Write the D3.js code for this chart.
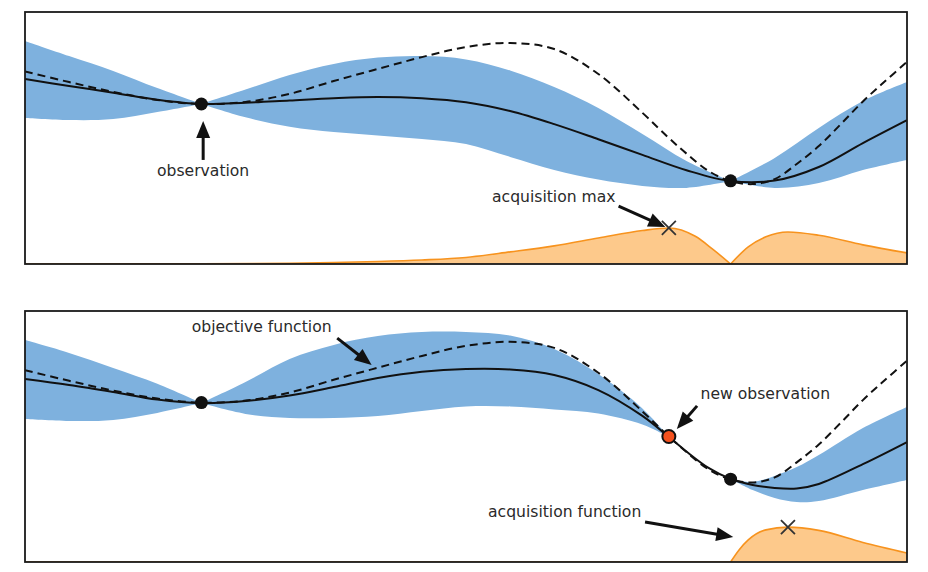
<!DOCTYPE html>
<html><head><meta charset="utf-8">
<script src="https://cdn.jsdelivr.net/npm/d3@7"></script>
<style>body{margin:0;background:#fff} svg{display:block} text{font-family:"DejaVu Sans",sans-serif}</style>
</head><body><svg id="c" width="928" height="572"></svg>
<script>
// ---------- data (x in [0,10], y in arbitrary units [0,10]) ----------
const objectiveX = [0,0.5,1,1.5,2,2.5,3,3.5,4,4.5,5,5.5,6,6.5,7,7.3,7.5,7.75,8,8.25,8.5,8.75,9,9.25,9.5,9.75,10];
const objectiveY = [7.64,7.22,6.83,6.51,6.35,6.43,6.75,7.26,7.74,8.21,8.61,8.77,8.53,7.54,6.00,5.00,4.38,3.69,3.29,3.17,3.37,3.97,4.68,5.55,6.45,7.25,8.02];

const gridTop  = [0,0.5,1,1.5,2,2.5,3,3.5,4,4.5,5,5.5,6,6.5,7,7.5,8,8.5,9,9.5,10];
const meanTop  = [7.34,7.06,6.80,6.52,6.35,6.40,6.49,6.58,6.63,6.58,6.42,6.07,5.55,4.95,4.33,3.72,3.29,3.31,3.85,4.80,5.71];
const upperTop = [8.85,8.25,7.66,6.98,6.35,6.92,7.50,7.94,8.19,8.25,8.12,7.68,7.02,6.19,5.16,4.09,3.29,4.21,5.40,6.47,7.22];
const lowerTop = [5.79,5.71,5.75,6.03,6.35,5.82,5.45,5.24,5.10,4.96,4.76,4.25,3.73,3.35,3.10,3.02,3.29,3.02,3.21,3.73,4.13];

const gridBot  = [0,0.5,1,1.5,2,2.5,3,3.5,4,4.5,5,5.5,6,6.5,7,7.3,7.5,7.75,8,8.25,8.5,8.75,9,9.5,10];
const meanBot  = [7.29,7.05,6.77,6.47,6.33,6.41,6.63,6.97,7.33,7.58,7.69,7.67,7.45,6.85,5.82,4.98,4.40,3.75,3.31,3.07,2.95,2.93,3.11,3.90,4.78];
const upperBot = [8.84,8.33,7.73,7.10,6.33,7.17,8.09,8.65,9.00,9.16,9.16,9.02,8.49,7.49,6.12,4.98,4.40,3.75,3.31,3.19,3.43,3.78,4.26,5.34,6.18];
const lowerBot = [5.70,5.62,5.66,5.94,6.33,5.90,5.74,5.74,5.82,6.02,6.20,6.20,6.08,5.92,5.48,4.98,4.40,3.75,3.31,2.87,2.55,2.39,2.43,2.87,3.27];

const acqTopX = [0,1,2,3,3.5,4,4.5,5,5.5,6,6.5,7,7.3,7.6,7.8,8,8.2,8.4,8.65,9,9.5,10];
const acqTopY = [0,0.005,0.01,0.03,0.06,0.1,0.16,0.26,0.48,0.72,1.03,1.33,1.43,1.10,0.58,0,0.68,1.08,1.27,1.14,0.76,0.44];
const acqBotX = [0,7.3,8,8.1,8.2,8.4,8.65,9,9.5,10];
const acqBotY = [0,0,0,0.5,0.88,1.28,1.39,1.26,0.78,0.36];

const obsX = [2, 8];
const obsY = [6.35, 3.30];
const newObsX = 7.3, newObsY = 5.0;

// annotations: text position (start/middle), arrow tail -> tip, all in data units
const annTop = [
  {text:"observation", tx:2.02, ty:3.49, anchor:"middle", ax1:2.02, ay1:4.13, ax2:2.02, ay2:5.67},
  {text:"acquisition max", tx:5.295, ty:2.48, anchor:"start", ax1:6.73, ay1:2.30, ax2:7.26, ay2:1.47}
];
const annBot = [
  {text:"objective function", tx:1.89, ty:9.18, anchor:"start", ax1:3.54, ay1:8.92, ax2:3.93, ay2:7.85},
  {text:"new observation", tx:7.66, ty:6.49, anchor:"start", ax1:7.62, ay1:6.22, ax2:7.39, ay2:5.30},
  {text:"acquisition function", tx:5.25, ty:1.79, anchor:"start", ax1:7.03, ay1:1.59, ax2:8.03, ay2:1.00}
];

// ---------- drawing ----------
const svg = d3.select("#c");
const x = d3.scaleLinear().domain([0,10]).range([25,907]);
const BLUE = "#7eb1de", ORANGE_FILL = "#fdc98b", ORANGE_LINE = "#f7931e";
const CURVE = d3.curveCatmullRom.alpha(0.5);

const panels = [
  {id:"top", y:d3.scaleLinear().domain([0,10]).range([264,12]),
   grid:gridTop, mean:meanTop, upper:upperTop, lower:lowerTop, bandBreaks:[2,8],
   acqX:acqTopX, acqY:acqTopY, acqBreaks:[8], newObs:false, ann:annTop},
  {id:"bot", y:d3.scaleLinear().domain([0,10]).range([562,311]),
   grid:gridBot, mean:meanBot, upper:upperBot, lower:lowerBot, bandBreaks:[2,7.3,8],
   acqX:acqBotX, acqY:acqBotY, acqBreaks:[8], newObs:true, ann:annBot}
];

function segments(pts, breaks){
  const edges = [0, ...breaks, 10];
  const out = [];
  for (let i=0;i<edges.length-1;i++){
    const a=edges[i], b=edges[i+1];
    out.push(pts.filter(p=>p.x>=a-1e-9 && p.x<=b+1e-9));
  }
  return out;
}

function arrow(g, x1,y1,x2,y2){
  const dx=x2-x1, dy=y2-y1, L=Math.hypot(dx,dy), ux=dx/L, uy=dy/L;
  const hl=17, hw=7;
  const bx=x2-ux*hl, by=y2-uy*hl;
  g.append("line").attr("x1",x1).attr("y1",y1).attr("x2",bx+ux*2).attr("y2",by+uy*2)
    .attr("stroke","#111").attr("stroke-width",3);
  g.append("path").attr("d",`M${x2},${y2}L${bx-uy*hw},${by+ux*hw}L${bx+uy*hw},${by-ux*hw}Z`)
    .attr("fill","#111");
}

panels.forEach(P=>{
  const y=P.y;
  const g = svg.append("g");
  const [y0,y1]=y.range();
  g.append("clipPath").attr("id","clip-"+P.id).append("rect")
    .attr("x",x(0)).attr("y",y1).attr("width",x(10)-x(0)).attr("height",y0-y1);
  const pg = g.append("g").attr("clip-path",`url(#clip-${P.id})`);

  // confidence band
  const band = P.grid.map((gx,i)=>({x:gx, lo:P.lower[i], hi:P.upper[i]}));
  const bandArea = d3.area().x(d=>x(d.x)).y0(d=>y(d.lo)).y1(d=>y(d.hi)).curve(CURVE);
  segments(band, P.bandBreaks).forEach(s=>{
    pg.append("path").attr("d",bandArea(s)).attr("fill",BLUE);
  });

  // acquisition
  const acq = P.acqX.map((ax,i)=>({x:ax, v:P.acqY[i]}));
  const acqArea = d3.area().x(d=>x(d.x)).y0(y(0)).y1(d=>y(d.v)).curve(d3.curveMonotoneX);
  const acqLine = d3.line().x(d=>x(d.x)).y(d=>y(d.v)).curve(d3.curveMonotoneX);
  segments(acq, P.acqBreaks).forEach(s=>{
    pg.append("path").attr("d",acqArea(s)).attr("fill",ORANGE_FILL);
    pg.append("path").attr("d",acqLine(s)).attr("fill","none").attr("stroke",ORANGE_LINE).attr("stroke-width",1.6);
  });

  // objective (dashed)
  const obj = objectiveX.map((ox,i)=>({x:ox, v:objectiveY[i]}));
  pg.append("path").attr("d",d3.line().x(d=>x(d.x)).y(d=>y(d.v)).curve(CURVE)(obj))
    .attr("fill","none").attr("stroke","#111").attr("stroke-width",2).attr("stroke-dasharray","8,5");

  // posterior mean
  const mean = P.grid.map((gx,i)=>({x:gx, v:P.mean[i]}));
  pg.append("path").attr("d",d3.line().x(d=>x(d.x)).y(d=>y(d.v)).curve(CURVE)(mean))
    .attr("fill","none").attr("stroke","#111").attr("stroke-width",2);

  // observations
  obsX.forEach((ox,i)=>{
    g.append("circle").attr("cx",x(ox)).attr("cy",y(obsY[i])).attr("r",6.5).attr("fill","#111");
  });
  if (P.newObs){
    g.append("circle").attr("cx",x(newObsX)).attr("cy",y(newObsY)).attr("r",6.5)
      .attr("fill","#f4511e").attr("stroke","#111").attr("stroke-width",2);
  }

  // acquisition max marker
  const mi = d3.maxIndex(P.acqY);
  const mx = x(P.acqX[mi]), my = y(P.acqY[mi]);
  g.append("path").attr("d",`M${mx-7},${my-7}L${mx+7},${my+7}M${mx-7},${my+7}L${mx+7},${my-7}`)
    .attr("stroke","#333").attr("stroke-width",1.8).attr("fill","none");

  // annotations
  P.ann.forEach(a=>{
    g.append("text").attr("x",x(a.tx)).attr("y",y(a.ty)).attr("text-anchor",a.anchor)
      .attr("font-size","15.6px").attr("fill","#2a2a2a").text(a.text);
    arrow(g, x(a.ax1), y(a.ay1), x(a.ax2), y(a.ay2));
  });

  // frame
  g.append("rect").attr("x",x(0)).attr("y",y1).attr("width",x(10)-x(0)).attr("height",y0-y1)
    .attr("fill","none").attr("stroke","#1a1a1a").attr("stroke-width",1.8);
});
</script></body></html>
